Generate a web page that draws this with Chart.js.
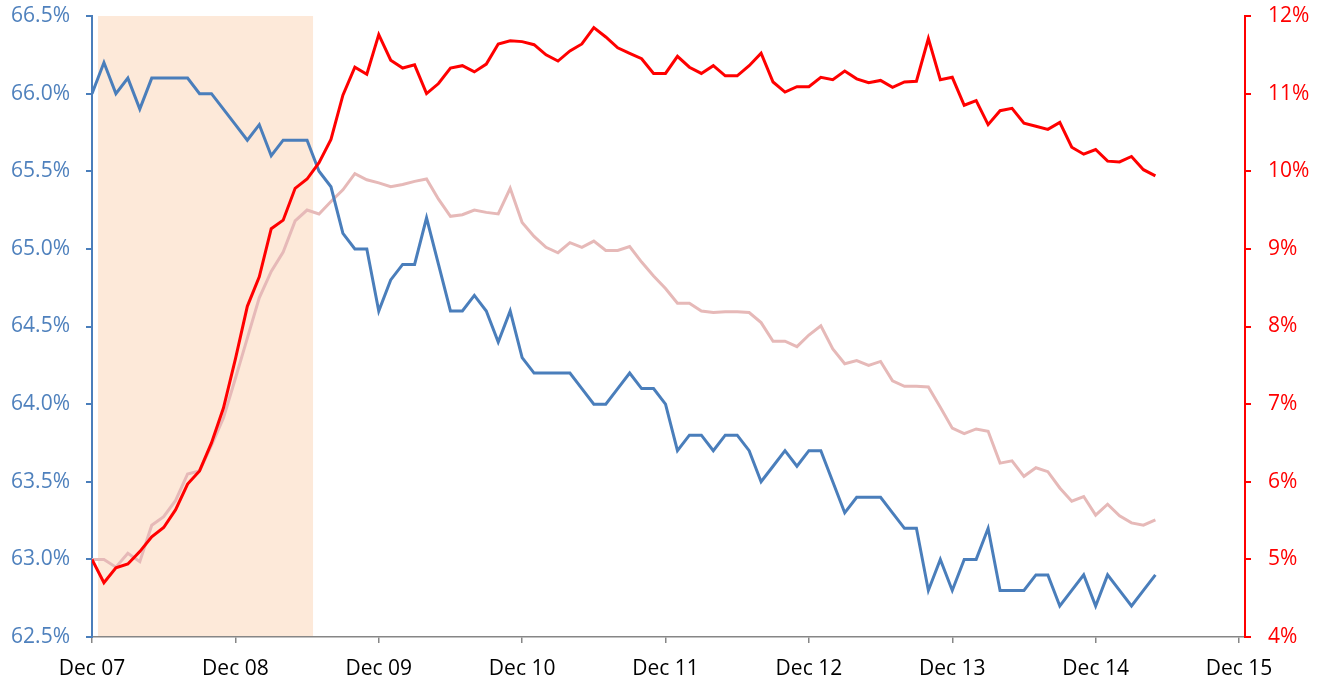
<!DOCTYPE html>
<html>
<head>
<meta charset="utf-8">
<script src="https://cdn.jsdelivr.net/npm/chart.js@4/dist/chart.umd.min.js"></script>
<style>
  body { margin: 0; background: #fff; }
  canvas { display: block; }
</style>
</head>
<body>
<canvas id="chart" width="1321" height="681"></canvas>
<script>
// months since Dec 07 are the x values (0 = Dec 07)
const xTickLabels = ["Dec 07", "Dec 08", "Dec 09", "Dec 10", "Dec 11", "Dec 12", "Dec 13", "Dec 14", "Dec 15"];
const recession = [0.5, 18.5]; // Jan 08 .. Jun 09, shaded

// left axis: participation rate (%)
const participation = [
  66.0, 66.2, 66.0, 66.1, 65.9, 66.1, 66.1, 66.1, 66.1, 66.0, 66.0, 65.9, 65.8,
  65.7, 65.8, 65.6, 65.7, 65.7, 65.7, 65.5, 65.4, 65.1, 65.0, 65.0, 64.6,
  64.8, 64.9, 64.9, 65.2, 64.9, 64.6, 64.6, 64.7, 64.6, 64.4, 64.6, 64.3,
  64.2, 64.2, 64.2, 64.2, 64.1, 64.0, 64.0, 64.1, 64.2, 64.1, 64.1, 64.0,
  63.7, 63.8, 63.8, 63.7, 63.8, 63.8, 63.7, 63.5, 63.6, 63.7, 63.6, 63.7,
  63.7, 63.5, 63.3, 63.4, 63.4, 63.4, 63.3, 63.2, 63.2, 62.8, 63.0, 62.8,
  63.0, 63.0, 63.2, 62.8, 62.8, 62.8, 62.9, 62.9, 62.7, 62.8, 62.9, 62.7,
  62.9, 62.8, 62.7, 62.8, 62.9
];

// right axis (%)
const redSeries = [
  5.0, 4.70, 4.89, 4.94, 5.10, 5.29, 5.41, 5.64, 5.97, 6.14, 6.50, 6.95, 7.58,
  8.26, 8.64, 9.26, 9.37, 9.78, 9.90, 10.11, 10.41, 10.98, 11.34, 11.25, 11.76,
  11.43, 11.33, 11.37, 11.00, 11.13, 11.33, 11.36, 11.28, 11.38, 11.64, 11.68, 11.67,
  11.63, 11.50, 11.42, 11.55, 11.64, 11.85, 11.73, 11.59, 11.52, 11.45, 11.26, 11.26,
  11.48, 11.34, 11.26, 11.36, 11.23, 11.23, 11.36, 11.52, 11.15, 11.02, 11.09, 11.09,
  11.21, 11.18, 11.29, 11.19, 11.14, 11.17, 11.08, 11.15, 11.16, 11.71, 11.18, 11.21,
  10.85, 10.91, 10.60, 10.78, 10.81, 10.62, 10.58, 10.54, 10.63, 10.31, 10.22, 10.28,
  10.13, 10.12, 10.19, 10.02, 9.94
];

const pinkSeries = [
  5.0, 5.0, 4.9, 5.08, 4.97, 5.44, 5.55, 5.76, 6.10, 6.14, 6.47, 6.82, 7.33,
  7.85, 8.37, 8.71, 8.96, 9.36, 9.50, 9.45, 9.61, 9.76, 9.97, 9.89, 9.85,
  9.80, 9.83, 9.87, 9.90, 9.64, 9.42, 9.44, 9.50, 9.47, 9.45, 9.78, 9.34,
  9.16, 9.02, 8.95, 9.08, 9.02, 9.10, 8.98, 8.98, 9.03, 8.83, 8.65, 8.49,
  8.30, 8.30, 8.20, 8.18, 8.19, 8.19, 8.18, 8.05, 7.81, 7.81, 7.74, 7.89,
  8.01, 7.71, 7.52, 7.56, 7.50, 7.55, 7.30, 7.23, 7.23, 7.22, 6.96, 6.69,
  6.62, 6.68, 6.65, 6.24, 6.27, 6.07, 6.18, 6.13, 5.92, 5.75, 5.81, 5.57,
  5.71, 5.56, 5.47, 5.44, 5.51
];

const FONT = "'Open Sans', 'Noto Sans', sans-serif";
const toPoints = (arr) => arr.map((v, i) => ({ x: i, y: v }));

const shading = {
  id: "shading",
  beforeDraw(chart) {
    const { ctx, chartArea, scales } = chart;
    const x1 = scales.x.getPixelForValue(recession[0]);
    const x2 = scales.x.getPixelForValue(recession[1]);
    ctx.save();
    ctx.fillStyle = "#fde9d9";
    ctx.fillRect(x1, chartArea.top, x2 - x1, chartArea.bottom - chartArea.top);
    ctx.restore();
  },
};

// fix axis boxes so the plot area lands where the original has it
const fitY = (w) => (scale) => {
  scale.width = w;
  scale.paddingTop = 0;
  scale.paddingBottom = 0;
};

function draw() {
  const ctx = document.getElementById("chart").getContext("2d");
  new Chart(ctx, {
    type: "line",
    data: {
      datasets: [
        { data: toPoints(redSeries), yAxisID: "y2", borderColor: "#ff0000", borderWidth: 3 },
        { data: toPoints(participation), yAxisID: "y", borderColor: "#4a7ebb", borderWidth: 3 },
        { data: toPoints(pinkSeries), yAxisID: "y2", borderColor: "#e6b9b8", borderWidth: 3 },
      ],
    },
    options: {
      responsive: false,
      animation: false,
      devicePixelRatio: 1,
      layout: { padding: { top: 16, left: 0, right: 0, bottom: 0 } },
      elements: { point: { radius: 0 }, line: { tension: 0 } },
      plugins: { legend: { display: false }, tooltip: { enabled: false } },
      scales: {
        x: {
          type: "linear",
          position: "bottom",
          min: 0,
          max: 96.5,
          afterBuildTicks: (scale) => {
            scale.ticks = xTickLabels.map((_, i) => ({ value: i * 12 }));
          },
          afterFit: (scale) => {
            scale.height = 44;
            scale.paddingLeft = 0;
            scale.paddingRight = 0;
          },
          ticks: {
            callback: (v) => xTickLabels[Math.round(v / 12)],
            color: "#000",
            font: { family: FONT, size: 21 },
            padding: 13,
            maxRotation: 0,
            autoSkip: false,
          },
          grid: { display: true, drawOnChartArea: false, drawTicks: true, tickLength: 6, color: "#868686", lineWidth: 1.5 },
          border: { display: true, color: "#868686", width: 1.5 },
        },
        y: {
          position: "left",
          min: 62.5,
          max: 66.5,
          afterFit: fitY(92),
          ticks: {
            stepSize: 0.5,
            callback: (v) => v.toFixed(1) + "%",
            color: "#4f81bd",
            font: { family: FONT, size: 21 },
            padding: 16,
          },
          grid: { display: true, drawOnChartArea: false, drawTicks: true, tickLength: 6, color: "#4a7ebb", lineWidth: 2 },
          border: { display: true, color: "#4a7ebb", width: 2 },
        },
        y2: {
          position: "right",
          min: 4,
          max: 12,
          afterFit: fitY(76),
          ticks: {
            stepSize: 1,
            callback: (v) => v + "%",
            color: "#ff0000",
            font: { family: FONT, size: 21 },
            padding: 17,
          },
          grid: { display: true, drawOnChartArea: false, drawTicks: true, tickLength: 6, color: "#ff0000", lineWidth: 2 },
          border: { display: true, color: "#ff0000", width: 2 },
        },
      },
    },
    plugins: [shading],
  });
}

document.fonts.load("21px 'Open Sans'").then(draw, draw);
</script>
</body>
</html>
